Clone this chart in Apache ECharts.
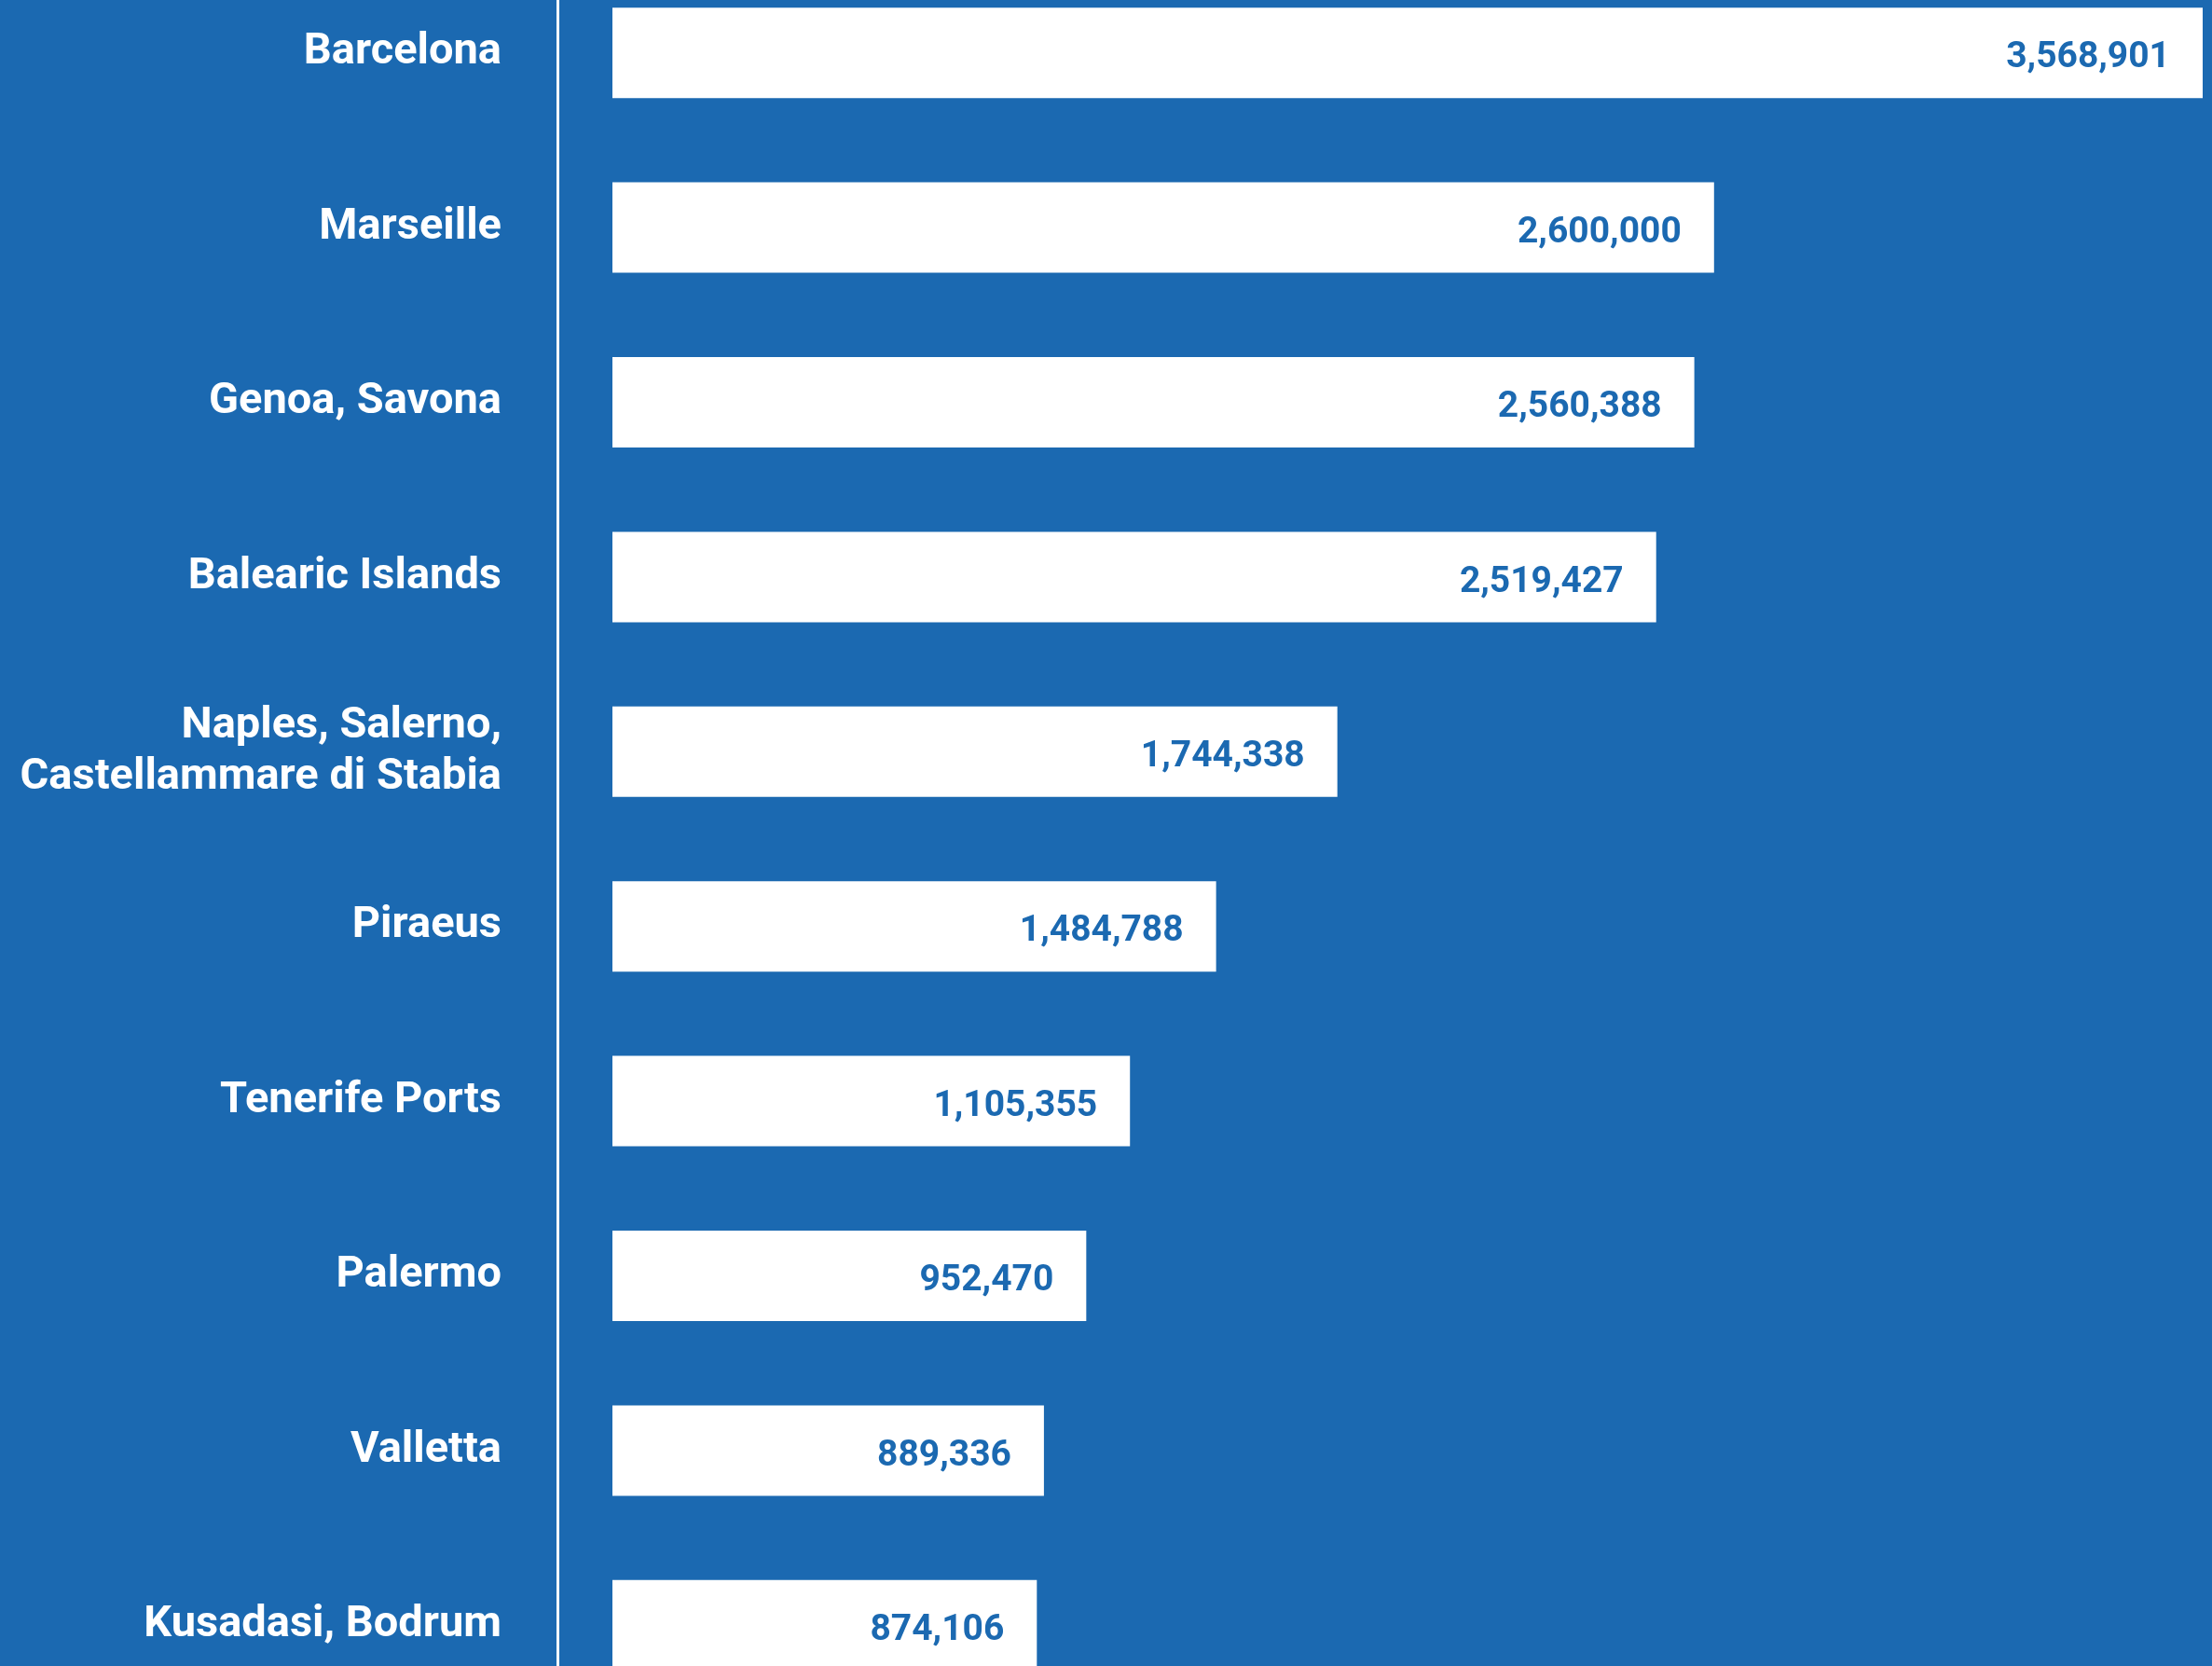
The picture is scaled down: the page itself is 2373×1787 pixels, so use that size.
<!DOCTYPE html>
<html>
<head>
<meta charset="utf-8">
<script src="https://cdn.jsdelivr.net/npm/echarts@6/dist/echarts.min.js"></script>
<style>
	html, body { margin: 0; padding: 0; background: #1b69b1; overflow: hidden; }
	#main { position: absolute; left: 0; top: -37px; width: 2373px; height: 1874px; }
</style>
</head>
<body>
<div id="main"></div>
<script>
var ports = ['Barcelona', 'Marseille', 'Genoa, Savona', 'Balearic Islands', 'Naples, Salerno,\nCastellammare di Stabia', 'Piraeus', 'Tenerife Ports', 'Palermo', 'Valletta', 'Kusadasi, Bodrum'];
// printed passenger numbers
var passengers = [3568901, 2600000, 2560388, 2519427, 1744338, 1484788, 1105355, 952470, 889336, 874106];
// bar lengths as drawn in the picture (same units as the axis)
var barLength = [3568901, 2472300, 2428000, 2342400, 1626900, 1354800, 1161500, 1063400, 968400, 952500];

var blue = '#1b69b1';
var myChart = echarts.init(document.getElementById('main'));

var option = {
	backgroundColor: blue,
	animation: false,
	grid: {
		left: 598,
		right: 10,
		top: 0,
		bottom: 0
	},
	xAxis: {
		type: 'value',
		min: -123426,
		max: 3568901,
		show: false
	},
	yAxis: {
		type: 'category',
		inverse: true,
		data: ports,
		axisLine: {
			show: true,
			onZero: false,
			lineStyle: { color: '#ffffff', width: 3 }
		},
		axisTick: { show: false },
		axisLabel: {
			margin: 60,
			color: '#ffffff',
			fontFamily: 'Roboto',
			fontWeight: 'bold',
			fontSize: 47,
			lineHeight: 55,
			align: 'right',
			padding: [0, 0, 15, 0]
		}
	},
	series: [{
		type: 'bar',
		barWidth: 97,
		data: barLength,
		itemStyle: { color: '#ffffff' },
		label: {
			show: true,
			position: 'insideRight',
			distance: 35,
			offset: [0, 6],
			color: blue,
			fontFamily: 'Roboto',
			fontWeight: 'bold',
			fontSize: 39,
			formatter: function(p) {
				return passengers[p.dataIndex].toLocaleString('en-US');
			}
		}
	}]
};
myChart.setOption(option);
</script>
</body>
</html>
